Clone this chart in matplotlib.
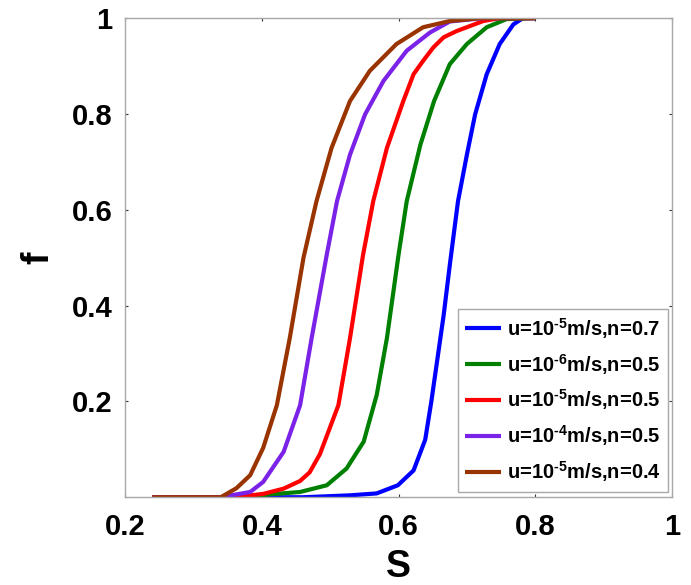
import matplotlib
matplotlib.use("Agg")
import matplotlib.pyplot as plt

plt.rcParams['font.family'] = ['Liberation Sans', 'DejaVu Sans']
plt.rcParams['font.weight'] = 'bold'
plt.rcParams['mathtext.fontset'] = 'custom'
plt.rcParams['mathtext.rm'] = 'Liberation Sans:bold'
plt.rcParams['mathtext.bf'] = 'Liberation Sans:bold'
plt.rcParams['mathtext.default'] = 'rm'

# Fractional flow curves f(S) for each velocity / exponent case
s_n07_u5 = [0.24, 0.46, 0.529, 0.568, 0.599, 0.622, 0.639, 0.648, 0.657, 0.666,
            0.675, 0.687, 0.700, 0.712, 0.729, 0.748, 0.768, 0.782, 0.80]
f_n07_u5 = [0.0, 0.0, 0.004, 0.008, 0.025, 0.056, 0.12, 0.20, 0.29, 0.38,
            0.485, 0.618, 0.715, 0.799, 0.883, 0.946, 0.987, 1.0, 1.0]

s_n05_u6 = [0.24, 0.38, 0.412, 0.456, 0.495, 0.524, 0.549, 0.568, 0.583, 0.600,
            0.612, 0.632, 0.652, 0.675, 0.700, 0.729, 0.758, 0.80]
f_n05_u6 = [0.0, 0.0, 0.006, 0.011, 0.025, 0.060, 0.116, 0.213, 0.332, 0.506,
            0.618, 0.736, 0.827, 0.904, 0.946, 0.981, 0.998, 1.0]

s_n05_u5 = [0.24, 0.36, 0.402, 0.432, 0.456, 0.470, 0.485, 0.512, 0.529, 0.548,
            0.563, 0.583, 0.607, 0.622, 0.636, 0.651, 0.666, 0.685, 0.724, 0.748, 0.80]
f_n05_u5 = [0.0, 0.0, 0.007, 0.018, 0.034, 0.052, 0.09, 0.192, 0.332, 0.505,
            0.618, 0.729, 0.827, 0.883, 0.911, 0.939, 0.960, 0.973, 0.994, 1.0, 1.0]

s_n05_u4 = [0.24, 0.34, 0.363, 0.383, 0.402, 0.432, 0.456, 0.473, 0.495, 0.510,
            0.529, 0.551, 0.578, 0.612, 0.646, 0.675, 0.724, 0.80]
f_n05_u4 = [0.0, 0.0, 0.006, 0.011, 0.032, 0.095, 0.192, 0.333, 0.506, 0.618,
            0.715, 0.799, 0.869, 0.932, 0.970, 0.993, 1.0, 1.0]

s_n04_u5 = [0.24, 0.34, 0.363, 0.383, 0.402, 0.422, 0.441, 0.461, 0.480, 0.502,
            0.529, 0.558, 0.597, 0.636, 0.675, 0.72, 0.80]
f_n04_u5 = [0.0, 0.0, 0.019, 0.046, 0.103, 0.192, 0.333, 0.50, 0.618, 0.729,
            0.827, 0.890, 0.946, 0.981, 0.994, 1.0, 1.0]

labels = [r"u=10$^{\text{-5}}$m/s,n=0.7",
          r"u=10$^{\text{-6}}$m/s,n=0.5",
          r"u=10$^{\text{-5}}$m/s,n=0.5",
          r"u=10$^{\text{-4}}$m/s,n=0.5",
          r"u=10$^{\text{-5}}$m/s,n=0.4"]
colors = ["#0000ff", "#008000", "#ff0000", "#7b22e8", "#993300"]

x_ticks = [0.2, 0.4, 0.6, 0.8, 1.0]
x_tick_labels = ["0.2", "0.4", "0.6", "0.8", "1"]
y_ticks = [0.2, 0.4, 0.6, 0.8, 1.0]
y_tick_labels = ["0.2", "0.4", "0.6", "0.8", "1"]

fig = plt.figure(figsize=(6.91, 5.85), dpi=100)
ax = fig.add_axes([0.181, 0.150, 0.7915, 0.819])

series = [(s_n07_u5, f_n07_u5), (s_n05_u6, f_n05_u6), (s_n05_u5, f_n05_u5),
          (s_n05_u4, f_n05_u4), (s_n04_u5, f_n04_u5)]
for (s, f), lab, c in zip(series, labels, colors):
    ax.plot(s, f, color=c, lw=3.0, label=lab, solid_capstyle='butt',
            solid_joinstyle='round')

ax.set_xlim(0.2, 1.0)
ax.set_ylim(0.0, 1.0)
ax.set_xticks(x_ticks)
ax.set_xticklabels(x_tick_labels)
ax.set_yticks(y_ticks)
ax.set_yticklabels(y_tick_labels)
ax.tick_params(direction='in', length=2.5, width=0.8, color='#333333',
               top=True, right=True, labelsize=21, pad=9)
ax.tick_params(axis='x', pad=11)
for sp in ax.spines.values():
    sp.set_color('#a8a8a8')
    sp.set_linewidth(1.0)

ax.set_xlabel("S", fontsize=27, fontweight='bold', labelpad=6)
ax.set_ylabel("f", fontsize=27, fontweight='bold', labelpad=11)

leg = ax.legend(loc='lower right', bbox_to_anchor=(0.993, 0.012),
                borderaxespad=0.0, fontsize=14.5, frameon=True, fancybox=False,
                framealpha=1.0, handlelength=1.8, handletextpad=0.3,
                labelspacing=0.55, borderpad=0.35, edgecolor='#a8a8a8')
leg.get_frame().set_linewidth(1.0)
for t in leg.get_texts():
    t.set_fontweight('bold')

fig.savefig("out.png", dpi=100)
